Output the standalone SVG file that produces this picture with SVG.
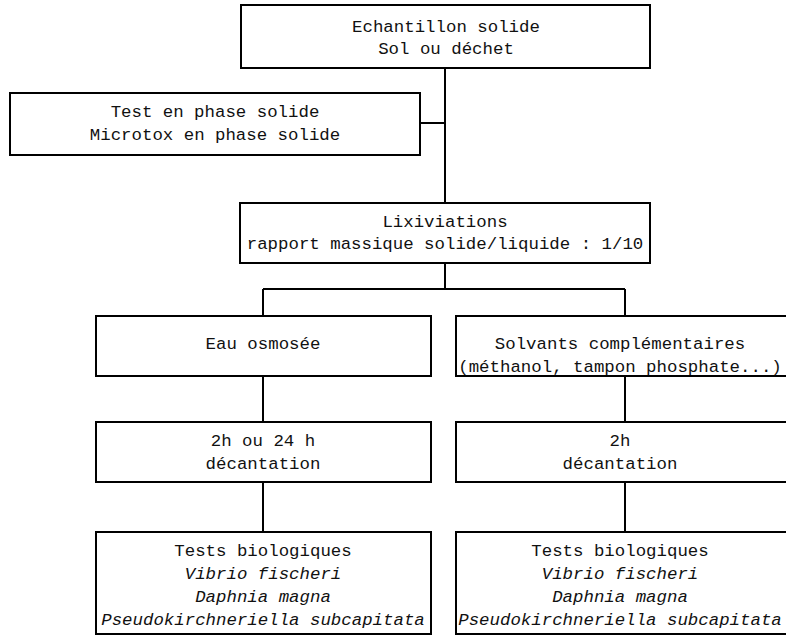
<svg xmlns="http://www.w3.org/2000/svg" width="786" height="637" viewBox="0 0 786 637">
  <style>
    .box { fill: #fff; stroke: #000; stroke-width: 2; }
    .wire { fill: none; stroke: #000; stroke-width: 2; }
    text { font-family: "Liberation Mono", "Courier New", monospace; font-size: 17.4px; fill: #111; text-anchor: middle; }
    .it { font-style: italic; }
  </style>
  <rect width="786" height="637" fill="#fff"/>

  <!-- connectors -->
  <g id="connectors">
    <path class="wire" d="M445 68 V203"/>
    <path class="wire" d="M420 123 H445"/>
    <path class="wire" d="M445 263 V289"/>
    <path class="wire" d="M263 289 H625"/>
    <path class="wire" d="M263 289 V316 M263 376 V422 M263 482 V532"/>
    <path class="wire" d="M625 289 V316 M625 376 V422 M625 482 V532"/>
  </g>

  <g id="echantillon">
    <rect class="box" x="241" y="5" width="409" height="63"/>
    <text x="446" y="32">Echantillon solide</text>
    <text x="446" y="54">Sol ou déchet</text>
  </g>

  <g id="test-solide">
    <rect class="box" x="10" y="93" width="410" height="62"/>
    <text x="215" y="117">Test en phase solide</text>
    <text x="215" y="140">Microtox en phase solide</text>
  </g>

  <g id="lixiviations">
    <rect class="box" x="240" y="203" width="410" height="60"/>
    <text x="445" y="227">Lixiviations</text>
    <text x="445" y="249">rapport massique solide/liquide : 1/10</text>
  </g>

  <g id="eau">
    <rect class="box" x="96" y="316" width="335" height="60"/>
    <text x="263" y="349">Eau osmosée</text>
  </g>

  <g id="solvants">
    <rect class="box" x="456" y="316" width="340" height="60"/>
    <text x="620" y="349">Solvants complémentaires</text>
    <text x="620" y="372">(méthanol, tampon phosphate...)</text>
  </g>

  <g id="decantation-eau">
    <rect class="box" x="96" y="422" width="335" height="60"/>
    <text x="263" y="446">2h ou 24 h</text>
    <text x="263" y="469">décantation</text>
  </g>

  <g id="decantation-solvants">
    <rect class="box" x="456" y="422" width="340" height="60"/>
    <text x="620" y="446">2h</text>
    <text x="620" y="469">décantation</text>
  </g>

  <g id="tests-eau">
    <rect class="box" x="96" y="532" width="335" height="102"/>
    <text x="263" y="556">Tests biologiques</text>
    <text class="it" x="263" y="579">Vibrio fischeri</text>
    <text class="it" x="263" y="602">Daphnia magna</text>
    <text class="it" x="263" y="625">Pseudokirchneriella subcapitata</text>
  </g>

  <g id="tests-solvants">
    <rect class="box" x="456" y="532" width="340" height="102"/>
    <text x="620" y="556">Tests biologiques</text>
    <text class="it" x="620" y="579">Vibrio fischeri</text>
    <text class="it" x="620" y="602">Daphnia magna</text>
    <text class="it" x="620" y="625">Pseudokirchneriella subcapitata</text>
  </g>
</svg>
